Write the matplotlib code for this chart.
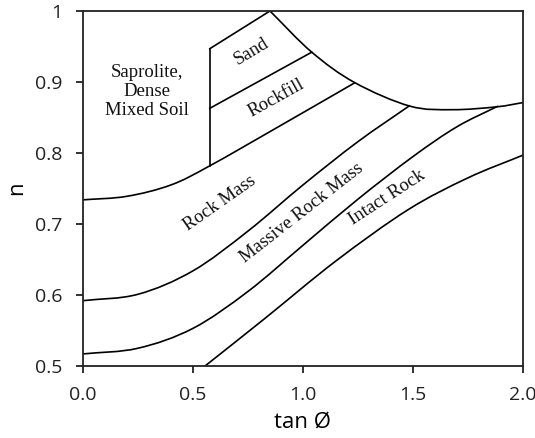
import numpy as np
import matplotlib
matplotlib.use("Agg")
import matplotlib.pyplot as plt
from matplotlib.path import Path
from matplotlib.patches import PathPatch

# Boundary curves of the n vs tan(phi) chart (x = tan phi, y = n)
upper_x = [0.0, 0.20, 0.40, 0.577, 0.90, 1.236]
upper_y = [0.734, 0.739, 0.755, 0.782, 0.839, 0.899]

rockmass_x = [0.0, 0.25, 0.50, 0.75, 1.0, 1.25, 1.486]
rockmass_y = [0.592, 0.601, 0.634, 0.690, 0.755, 0.816, 0.867]

massive_x = [0.0, 0.25, 0.50, 0.75, 1.0, 1.25, 1.50, 1.70, 1.886]
massive_y = [0.517, 0.525, 0.553, 0.605, 0.670, 0.735, 0.795, 0.837, 0.866]

intact_x = [0.555, 0.827, 1.15, 1.477, 1.75, 2.0]
intact_y = [0.500, 0.567, 0.648, 0.720, 0.765, 0.797]

envelope_x = [0.85, 1.04, 1.236, 1.486, 1.68, 1.88, 2.0]
envelope_y = [1.000, 0.942, 0.899, 0.866, 0.861, 0.865, 0.871]

# Straight segments around the Sand / Rockfill zones
divider_x = [0.577, 0.577]
divider_y = [0.782, 0.947]
sand_top_x = [0.577, 0.85]
sand_top_y = [0.947, 1.000]
sand_bottom_x = [0.577, 1.04]
sand_bottom_y = [0.863, 0.942]

# Zone labels: text, x, y, rotation
zone_labels = [
    ("Saprolite,\nDense\nMixed Soil", 0.293, 0.886, 0),
    ("Sand", 0.768, 0.943, 31),
    ("Rockfill", 0.877, 0.877, 29),
    ("Rock Mass", 0.62, 0.729, 35),
    ("Massive Rock Mass", 0.995, 0.716, 38),
    ("Intact Rock", 1.38, 0.737, 33),
]

x_ticks = [0.0, 0.5, 1.0, 1.5, 2.0]
x_tick_labels = ["0.0", "0.5", "1.0", "1.5", "2.0"]
y_ticks = [0.5, 0.6, 0.7, 0.8, 0.9, 1.0]
y_tick_labels = ["0.5", "0.6", "0.7", "0.8", "0.9", "1"]


def smooth_path(xs, ys):
    """Catmull-Rom spline through the points, expressed as cubic Bezier path."""
    pts = np.column_stack([xs, ys]).astype(float)
    n = len(pts)
    ext = np.vstack([2 * pts[0] - pts[1], pts, 2 * pts[-1] - pts[-2]])
    verts = [pts[0]]
    codes = [Path.MOVETO]
    for i in range(n - 1):
        p0, p1, p2, p3 = ext[i], ext[i + 1], ext[i + 2], ext[i + 3]
        c1 = p1 + (p2 - p0) / 6.0
        c2 = p2 - (p3 - p1) / 6.0
        verts += [c1, c2, p2]
        codes += [Path.CURVE4] * 3
    return Path(verts, codes)


fig = plt.figure(figsize=(5.35, 4.38), dpi=100)
ax = fig.add_axes([0.155, 0.1644, 0.8226, 0.8105])

line_kw = dict(color="black", linewidth=1.2)
for xs, ys in [(upper_x, upper_y), (rockmass_x, rockmass_y),
               (massive_x, massive_y), (intact_x, intact_y),
               (envelope_x, envelope_y)]:
    ax.add_patch(PathPatch(smooth_path(xs, ys), fill=False,
                           edgecolor="black", linewidth=1.2, clip_on=True))

for xs, ys in [(divider_x, divider_y), (sand_top_x, sand_top_y),
               (sand_bottom_x, sand_bottom_y)]:
    ax.plot(xs, ys, **line_kw)

for text, x, y, rot in zone_labels:
    ax.text(x, y, text, rotation=rot, rotation_mode="anchor",
            ha="center", va="center", fontsize=13.5,
            family="Liberation Serif", color="#111111",
            linespacing=1.15)

ax.set_xlim(0, 2)
ax.set_ylim(0.5, 1.0)
ax.set_xticks(x_ticks)
ax.set_xticklabels(x_tick_labels)
ax.set_yticks(y_ticks)
ax.set_yticklabels(y_tick_labels)

for spine in ax.spines.values():
    spine.set_linewidth(1.3)
    spine.set_color("#222222")

ax.tick_params(direction="out", length=5, width=1.3, pad=9.5,
               labelsize=14, colors="#222222", top=False, right=False)
for lbl in ax.get_xticklabels() + ax.get_yticklabels():
    lbl.set_family("Open Sans")

ax.set_xlabel("tan Ø", fontsize=16, family="Open Sans", labelpad=5)
ax.set_ylabel("n", fontsize=16, family="Open Sans", labelpad=6)

fig.savefig("out.png", dpi=100)
